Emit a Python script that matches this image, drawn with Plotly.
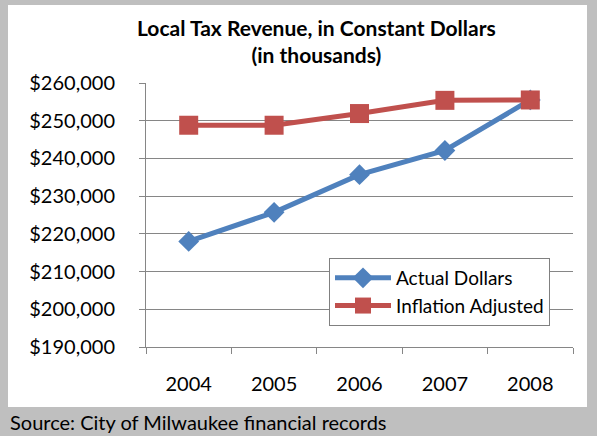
import plotly.graph_objects as go

years = ["2004", "2005", "2006", "2007", "2008"]
actual = [218000, 225700, 235700, 242100, 255500]
inflation = [248800, 248800, 251900, 255400, 255500]
y_ticks = [190000, 200000, 210000, 220000, 230000, 240000, 250000, 260000]

FONT = "Lato"
W, H = 597, 436
L, R, T, B = 146, 573, 83, 347
pw, ph = R - L, B - T

def px(x):
    return (x - L) / pw

def py(y):
    return (B - y) / ph

fig = go.Figure()
fig.add_trace(go.Scatter(
    x=years, y=actual, name="Actual Dollars", mode="lines+markers",
    line=dict(color="#4F81BD", width=5),
    marker=dict(symbol="diamond", size=16, color="#4F81BD"),
))
fig.add_trace(go.Scatter(
    x=years, y=inflation, name="Inflation Adjusted", mode="lines+markers",
    line=dict(color="#C0504D", width=5),
    marker=dict(symbol="square", size=19, color="#C0504D"),
))

fig.update_layout(
    width=W, height=H,
    margin=dict(l=L, r=W - R, t=T, b=H - B),
    paper_bgcolor="#BFBFBF",
    plot_bgcolor="white",
    font=dict(family=FONT, size=20, color="black"),
    showlegend=True,
    legend=dict(
        x=px(329), y=py(258), xanchor="left", yanchor="top",
        bgcolor="white", bordercolor="#808080", borderwidth=1,
        font=dict(family=FONT, size=19, color="black"),
        itemwidth=56, tracegroupgap=0,
    ),
    shapes=[dict(
        type="rect", xref="paper", yref="paper", layer="below",
        x0=px(8), x1=px(587), y0=py(407), y1=py(5),
        fillcolor="white", line=dict(width=0),
    )],
    annotations=[
        dict(text="<b>Local Tax Revenue, in Constant Dollars<br>(in thousands)</b>",
             xref="paper", yref="paper", x=px(316), y=py(41),
             xanchor="center", yanchor="middle", showarrow=False,
             font=dict(family=FONT, size=21, color="black")),
        dict(text="Source: City of Milwaukee financial records",
             xref="paper", yref="paper", x=px(8), y=py(422),
             xanchor="left", yanchor="middle", showarrow=False,
             font=dict(family=FONT, size=20, color="black")),
    ],
)

fig.update_xaxes(
    type="category", range=[-0.5, 4.5], tickson="boundaries",
    ticks="outside", ticklen=6, tickcolor="#868686",
    showline=True, linecolor="#868686", linewidth=1,
    showgrid=False, ticklabelstandoff=19,
    tickfont=dict(family=FONT, size=20, color="black"),
)
fig.update_yaxes(
    range=[190000, 260000], tickvals=y_ticks,
    tickformat="$,.0f",
    ticks="outside", ticklen=6, tickcolor="#868686",
    showline=True, linecolor="#868686", linewidth=1,
    showgrid=True, gridcolor="#868686", gridwidth=1,
    zeroline=False, ticklabelstandoff=20,
    tickfont=dict(family=FONT, size=20, color="black"),
)

fig.write_html("out.html", config={"displayModeBar": False},
               post_script="document.body.style.margin='0';")
